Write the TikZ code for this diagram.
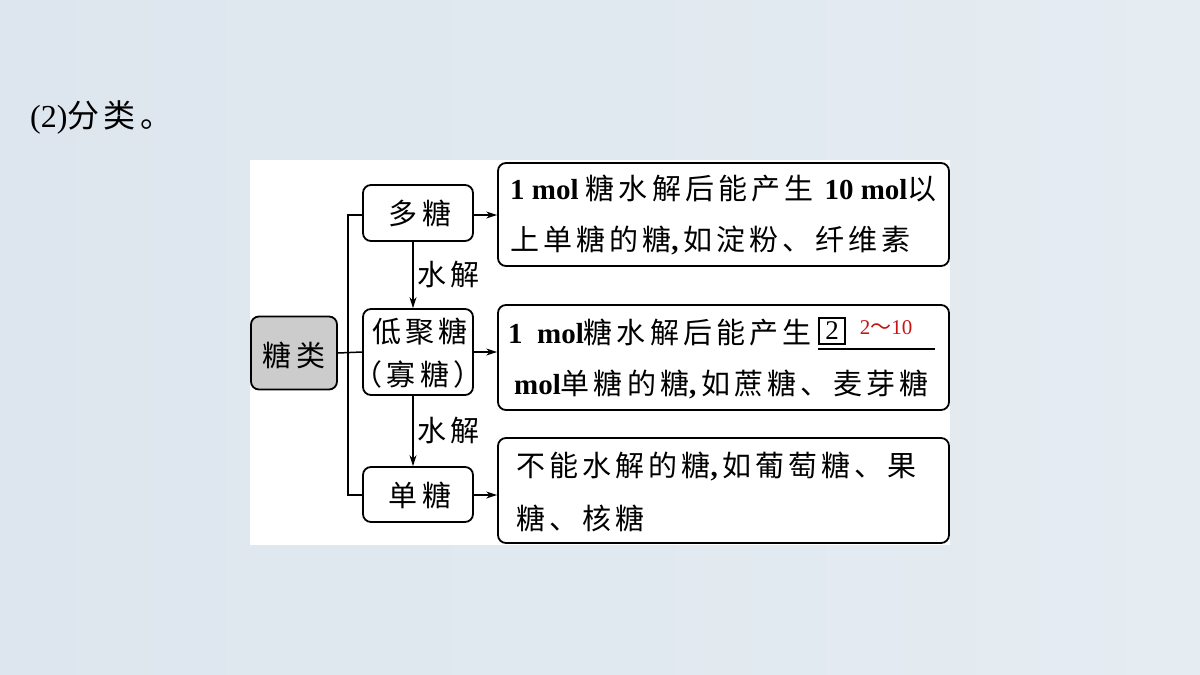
\documentclass[tikz,border=0pt]{standalone}
\usepackage{fontspec}
\setmainfont{Liberation Serif}
\newfontfamily\cjkfont[LetterSpace=14]{Noto Sans CJK SC}
\newfontfamily\cjkplain{Noto Sans CJK SC}
\newcommand\zh[1]{{\cjkfont #1}}
\usetikzlibrary{arrows.meta}
\definecolor{bgA}{RGB}{221,230,238}
\definecolor{bgB}{RGB}{229,236,242}
\definecolor{boxgray}{RGB}{204,204,204}
\definecolor{redtxt}{RGB}{200,20,20}
\tikzset{
  box/.style={draw=black, line width=1.8pt, rounded corners=8pt, fill=white, inner sep=0pt},
  line/.style={draw=black, line width=1.5pt},
  arr/.style={line, -{Stealth[length=11pt,width=7pt]}},
  txt/.style={inner sep=0pt, anchor=west, font=\fontsize{29}{32}\selectfont},
  lbl/.style={inner sep=0pt, font=\fontsize{29}{32}\selectfont\cjkfont}
}
\begin{document}
\begin{tikzpicture}[x=1pt,y=-1pt]
\useasboundingbox (0,0) rectangle (1200,675);
\shade[left color=bgA, right color=bgB] (0,0) rectangle (1200,675);
\fill[white] (250,160) rectangle (950,545);
% title
\node[txt, font=\fontsize{32}{34}\selectfont] (title) at (30,117) {(2)\zh{分类。}};
% left boxes
\node[box, fill=boxgray, minimum width=86pt, minimum height=73pt] (tl) at (294,353) {};
\node[lbl] (tlt) at (294,355) {糖类};
\node[box, minimum width=110pt, minimum height=56pt] (duo) at (418,213) {};
\node[lbl] (duot) at (420,213) {多糖};
\node[box, minimum width=110pt, minimum height=86pt] (low) at (418,352) {};
\node[lbl] (lowt1) at (420,332) {低聚糖};
\node[lbl] (lowt2) at (418,374) {（寡糖）};
\node[box, minimum width=110pt, minimum height=55pt] (dan) at (418,494.5) {};
\node[lbl] (dant) at (420,495) {单糖};
% right boxes
\node[box, minimum width=451pt, minimum height=103pt] (b1) at (723.5,214.5) {};
\node[box, minimum width=451pt, minimum height=105pt] (b2) at (723.5,357.5) {};
\node[box, minimum width=451pt, minimum height=105pt] (b3) at (723.5,490.5) {};
% texts in right boxes
\node[txt] (b1l1) at (510,189) {\textbf{1 mol} \zh{糖水解后能产生} \textbf{10 mol}\zh{以}};
\node[txt] (b1l2) at (510,240) {\zh{上单糖的糖}\textbf{,}\,\zh{如淀粉、纤维素}};
\node[txt] (b2l1) at (508,333) {\textbf{1\ \ mol}\zh{糖水解后能产生}};
\node[draw=black, line width=1.3pt, inner sep=1pt, minimum width=26pt, minimum height=26pt, font=\fontsize{27}{28}\selectfont] (num) at (832,331) {2};
\node[inner sep=0pt, text=redtxt, font=\fontsize{21}{22}\selectfont] (ans) at (886,328) {2{\cjkplain ～}10};
\coordinate (ulA) at (818,349);
\coordinate (ulB) at (935,349);
\draw[line] (ulA) -- (ulB);
\node[txt] (b2l2) at (514,385) {\textbf{mol}\zh{单糖的糖}\textbf{,}\,\zh{如蔗糖、麦芽糖}};
\node[txt] (b3l1) at (516,466) {\zh{不能水解的糖}\textbf{,}\,\zh{如葡萄糖、果}};
\node[txt] (b3l2) at (516,518) {\zh{糖、核糖}};
% connectors
\coordinate (trT) at (348,215);
\coordinate (trB) at (348,495);
\draw[line] (duo.west |- trT) -- (trT) -- (trB) -- (dan.west |- trB);
\draw[line] (tl.east) -- (low.west);
\draw[arr] (duo.east |- trT) -- (b1.west |- trT);
\draw[arr] (low.east) -- (b2.west |- low.east);
\draw[arr] (dan.east |- trB) -- (b3.west |- trB);
\draw[arr] ([xshift=-5pt]duo.south) -- ([xshift=-5pt]low.north) node[midway, right=4pt, lbl] (h1) {水解};
\draw[arr] ([xshift=-5pt]low.south) -- ([xshift=-5pt]dan.north) node[midway, right=4pt, lbl] (h2) {水解};
\end{tikzpicture}
\end{document}
